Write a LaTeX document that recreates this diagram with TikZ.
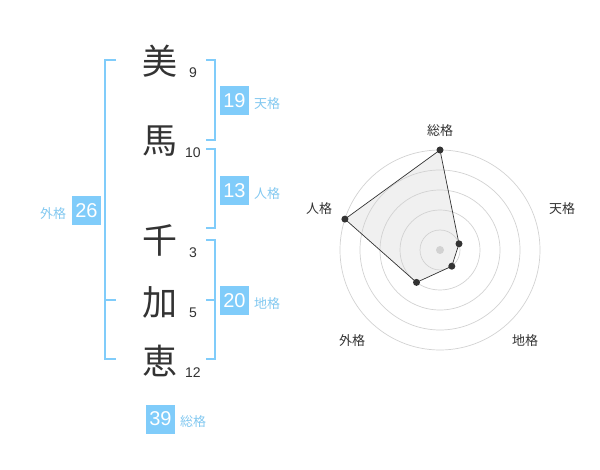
\documentclass[tikz,border=0pt]{standalone}
\usepackage{fontspec}
\setmainfont{Liberation Sans}
\newfontfamily\jp{Noto Sans CJK JP}
\definecolor{bluebox}{RGB}{128,204,250}
\definecolor{bluetxt}{RGB}{130,200,240}
\definecolor{ink}{RGB}{51,51,51}
\definecolor{ringc}{RGB}{210,210,210}
\definecolor{polyfill}{RGB}{240,240,240}
\tikzset{
  kanji/.style={font=\jp\fontsize{35}{35}\selectfont, text=ink, inner sep=0pt},
  strokes/.style={font=\fontsize{14}{14}\selectfont, text=ink, inner sep=0pt},
  valbox/.style={fill=bluebox, text=white, minimum width=29pt, minimum height=29pt, inner sep=0pt, font=\fontsize{20}{20}\selectfont},
  kaku/.style={font=\jp\fontsize{13}{13}\selectfont, text=bluetxt, inner sep=0pt},
  bracket/.style={draw=bluebox, line width=1.6pt},
  ring/.style={draw=ringc, line width=0.7pt},
  rlabel/.style={font=\jp\fontsize{13}{13}\selectfont, text=ink, inner sep=0pt},
  vdot/.style={circle, fill=ink, inner sep=0pt, minimum size=7pt}
}
\begin{document}
\begin{tikzpicture}[x=1pt,y=-1pt]
\useasboundingbox (0,0) rectangle (600,470);
% kanji
\node[kanji] (k1) at (160,61) {美};
\node[kanji] (k2) at (160,141) {馬};
\node[kanji] (k3) at (160,240) {千};
\node[kanji] (k4) at (160,302) {加};
\node[kanji] (k5) at (160,361) {恵};
\node[strokes] (s1) at (193,73) {9};
\node[strokes] (s2) at (193,152.5) {10};
\node[strokes] (s3) at (193,252.5) {3};
\node[strokes] (s4) at (193,313) {5};
\node[strokes] (s5) at (193,372.5) {12};
% left bracket (gaikaku)
\coordinate (lt) at (116,60);
\coordinate (lm) at (116,300);
\coordinate (lb) at (116,359);
\draw[bracket] (lt) -- (105,60) -- (105,359) -- (lb);
\draw[bracket] (105,300) -- (lm);
\node[valbox] (b26) at (86.5,210.5) {26};
\node[kaku] (g26) at (53,214) {外格};
% right brackets
\draw[bracket] (206,60) -- (215,60) -- (215,140) -- (206,140);
\draw[bracket] (206,149) -- (215,149) -- (215,228) -- (206,228);
\draw[bracket] (206,240) -- (215,240) -- (215,359) -- (206,359);
\draw[bracket] (206,300) -- (215,300);
\node[valbox] (b19) at (234.5,100.5) {19};
\node[kaku, anchor=west] (t19) at (254,104) {天格};
\node[valbox] (b13) at (234.5,190.5) {13};
\node[kaku, anchor=west] (t13) at (254,194) {人格};
\node[valbox] (b20) at (234.5,300.5) {20};
\node[kaku, anchor=west] (t20) at (254,304) {地格};
\node[valbox] (b39) at (160.5,419) {39};
\node[kaku, anchor=west] (t39) at (180,422) {総格};
% radar chart
\coordinate (c) at (440,250);
\path (c) ++(0,-100) coordinate (p1);
\path (c) ++(19.0,-6.2) coordinate (p2);
\path (c) ++(11.8,16.2) coordinate (p3);
\path (c) ++(-23.5,32.4) coordinate (p4);
\path (c) ++(-95.1,-30.9) coordinate (p5);
\fill[polyfill] (p1) -- (p2) -- (p3) -- (p4) -- (p5) -- cycle;
\foreach \r in {20,40,60,80,100} \draw[ring] (c) circle[radius=\r];
\fill[ringc] (c) circle[radius=4];
\draw[draw=ink, line width=0.7pt] (p1) -- (p2) -- (p3) -- (p4) -- (p5) -- cycle;
\foreach \p in {p1,p2,p3,p4,p5} \node[vdot] at (\p) {};
\node[rlabel] (r1) at (440,130.5) {総格};
\node[rlabel] (r2) at (562,208.5) {天格};
\node[rlabel] (r3) at (525,341) {地格};
\node[rlabel] (r4) at (352,341) {外格};
\node[rlabel] (r5) at (319,208.5) {人格};
\end{tikzpicture}
\end{document}
